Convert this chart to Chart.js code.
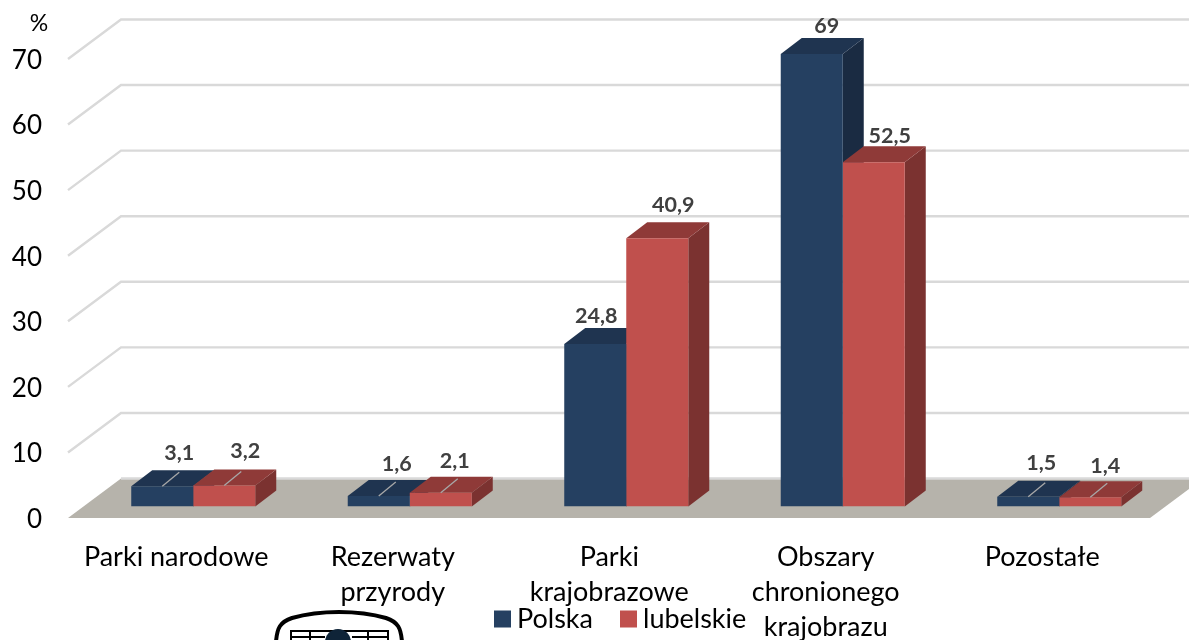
<!DOCTYPE html>
<html>
    <head>
        <meta charset="utf-8">
        <script src="https://cdn.jsdelivr.net/npm/chart.js@4"></script>
        <style>
            html, body { margin: 0; padding: 0; background: #fff; overflow: hidden; }
            canvas { display: block; }
        </style>
    </head>

    <body>
        <canvas id="plot" width="1189" height="640"></canvas>

        <script>
            // data
            const categories = ['Parki narodowe', ['Rezerwaty', 'przyrody'], ['Parki', 'krajobrazowe'], ['Obszary', 'chronionego', 'krajobrazu'], 'Pozostałe'];
            const polska = [3.1, 1.6, 24.8, 69, 1.5];
            const lubelskie = [3.2, 2.1, 40.9, 52.5, 1.4];

            const FONT = 'Lato, Carlito, sans-serif';

            // depth of the fake 3D, in px
            const WALL = { dx: 53, back: -28, front: 11.5 };
            const BAR = { dx: 21, dy: -16 };
            const shades = [
                { top: '#1f3450', side: '#1a2b42' },
                { top: '#8f3a38', side: '#7b3230' }
            ];
            // label position relative to the top of the front face
            const labelShift = [
                [[17, -33], [18, -32], [1, -28], [15, -28], [13, -34]],
                [[21, -34], [14, -32], [16, -33], [16, -26], [15, -31]]
            ];

            const decade = {
                id: 'decade',
                beforeDatasetsDraw(chart) {
                    const { ctx, chartArea, scales: { y } } = chart;
                    const x0 = chartArea.left - 17;
                    const x1 = x0 + WALL.dx;
                    const y0 = y.getPixelForValue(0);

                    ctx.save();

                    // floor
                    ctx.fillStyle = '#b6b3ab';
                    ctx.beginPath();
                    ctx.moveTo(x0, y0 + WALL.front);
                    ctx.lineTo(x1, y0 + WALL.back);
                    ctx.lineTo(1203, y0 + WALL.back);
                    ctx.lineTo(1150, y0 + WALL.front);
                    ctx.closePath();
                    ctx.fill();

                    // grid on the wall
                    ctx.strokeStyle = '#d9d9d9';
                    ctx.lineWidth = 2.4;
                    for (const t of y.ticks) {
                        const py = y.getPixelForValue(t.value);
                        ctx.beginPath();
                        if (t.value > 0) ctx.moveTo(x0, py + WALL.front);
                        else ctx.moveTo(x1, py + WALL.back);
                        ctx.lineTo(x1, py + WALL.back);
                        ctx.lineTo(chart.width, py + WALL.back);
                        ctx.stroke();
                    }

                    // tops and sides of the bars
                    chart.data.datasets.forEach((ds, i) => {
                        chart.getDatasetMeta(i).data.forEach((bar) => {
                            const l = bar.x - bar.width / 2;
                            const r = bar.x + bar.width / 2;

                            ctx.fillStyle = shades[i].side;
                            ctx.beginPath();
                            ctx.moveTo(r, bar.y);
                            ctx.lineTo(r + BAR.dx, bar.y + BAR.dy);
                            ctx.lineTo(r + BAR.dx, bar.base + BAR.dy);
                            ctx.lineTo(r, bar.base);
                            ctx.closePath();
                            ctx.fill();

                            ctx.fillStyle = shades[i].top;
                            ctx.beginPath();
                            ctx.moveTo(l, bar.y);
                            ctx.lineTo(l + BAR.dx, bar.y + BAR.dy);
                            ctx.lineTo(r + BAR.dx, bar.y + BAR.dy);
                            ctx.lineTo(r, bar.y);
                            ctx.closePath();
                            ctx.fill();
                        });
                    });

                    ctx.restore();
                },
                afterDatasetsDraw(chart) {
                    const ctx = chart.ctx;

                    ctx.save();
                    ctx.textAlign = 'center';
                    ctx.textBaseline = 'middle';
                    ctx.font = 'bold 21.5px ' + FONT;

                    chart.data.datasets.forEach((ds, i) => {
                        chart.getDatasetMeta(i).data.forEach((bar, j) => {
                            // leader line on the low bars
                            if (ds.data[j] < 10) {
                                ctx.strokeStyle = '#a8a8a8';
                                ctx.lineWidth = 1.3;
                                ctx.beginPath();
                                ctx.moveTo(bar.x, bar.y);
                                ctx.lineTo(bar.x + 17, bar.y - 14);
                                ctx.stroke();
                            }

                            ctx.fillStyle = '#404040';
                            ctx.fillText(String(ds.data[j]).replace('.', ','), bar.x + labelShift[i][j][0], bar.y + labelShift[i][j][1]);
                        });
                    });

                    ctx.fillStyle = '#000';
                    ctx.font = '23px ' + FONT;
                    ctx.fillText('%', 39, 24);
                    ctx.restore();
                },
                afterDraw(chart) {
                    // the stamp cut off by the bottom edge
                    const ctx = chart.ctx;

                    ctx.save();
                    ctx.strokeStyle = '#000';
                    ctx.lineWidth = 4;
                    ctx.beginPath();
                    ctx.moveTo(276, 642);
                    ctx.bezierCurveTo(277, 628, 280, 622, 292, 618);
                    ctx.bezierCurveTo(320, 610, 358, 610, 386, 618);
                    ctx.bezierCurveTo(398, 622, 401, 628, 402, 642);
                    ctx.stroke();

                    ctx.lineWidth = 2;
                    ctx.strokeRect(291, 631, 97, 20);
                    ctx.beginPath();
                    ctx.moveTo(310, 631);
                    ctx.lineTo(310, 642);
                    ctx.moveTo(291, 637);
                    ctx.lineTo(325, 637);
                    ctx.moveTo(368, 631);
                    ctx.lineTo(368, 642);
                    ctx.moveTo(352, 637);
                    ctx.lineTo(388, 637);
                    ctx.stroke();

                    ctx.fillStyle = '#0f2438';
                    ctx.beginPath();
                    ctx.arc(338, 642, 13, 0, Math.PI * 2);
                    ctx.fill();
                    ctx.restore();
                },
                afterLayout(chart) {
                    // legend sits over the axis labels in the original
                    const legend = chart.legend;
                    const h = legend.height;
                    legend.left = 467;
                    legend.right = 1189;
                    legend.top = 571;
                    legend.bottom = legend.top + h;

                    // axis labels get clipped to the scale box otherwise
                    chart.scales.x.bottom = chart.height;
                }
            };

            new Chart(document.getElementById('plot'), {
                type: 'bar',
                data: {
                    labels: categories,
                    datasets: [
                        { label: 'Polska', data: polska, backgroundColor: '#254061', borderWidth: 0 },
                        { label: 'lubelskie', data: lubelskie, backgroundColor: '#c0504d', borderWidth: 0 }
                    ]
                },
                options: {
                    responsive: false,
                    animation: false,
                    devicePixelRatio: 1,
                    layout: { padding: { top: 47.5, right: 21.5, left: 0, bottom: 0 } },
                    datasets: { bar: { categoryPercentage: 0.5728, barPercentage: 1 } },
                    plugins: {
                        tooltip: { enabled: false },
                        legend: {
                            position: 'bottom',
                            align: 'start',
                            labels: {
                                usePointStyle: true,
                                pointStyle: 'rect',
                                boxWidth: 2,
                                boxHeight: 17,
                                padding: 34.5,
                                color: '#000',
                                font: { family: FONT, size: 27 }
                            }
                        }
                    },
                    scales: {
                        x: {
                            grid: { display: false, drawTicks: false },
                            border: { display: false },
                            afterFit: (s) => { s.height = 62; },
                            ticks: {
                                color: '#000',
                                font: { family: FONT, size: 27, lineHeight: 1.3 },
                                padding: 33,
                                labelOffset: -17,
                                maxRotation: 0,
                                autoSkip: false
                            }
                        },
                        y: {
                            min: 0,
                            max: 70,
                            grid: { display: false, drawTicks: false },
                            border: { display: false },
                            afterFit: (s) => { s.width = 85; s.paddingTop = 0; s.paddingBottom = 0; },
                            ticks: {
                                stepSize: 10,
                                color: '#000',
                                font: { family: FONT, size: 26 },
                                padding: 43,
                                labelOffset: 13
                            }
                        }
                    }
                },
                plugins: [decade]
            });
        </script>
    </body>
</html>
